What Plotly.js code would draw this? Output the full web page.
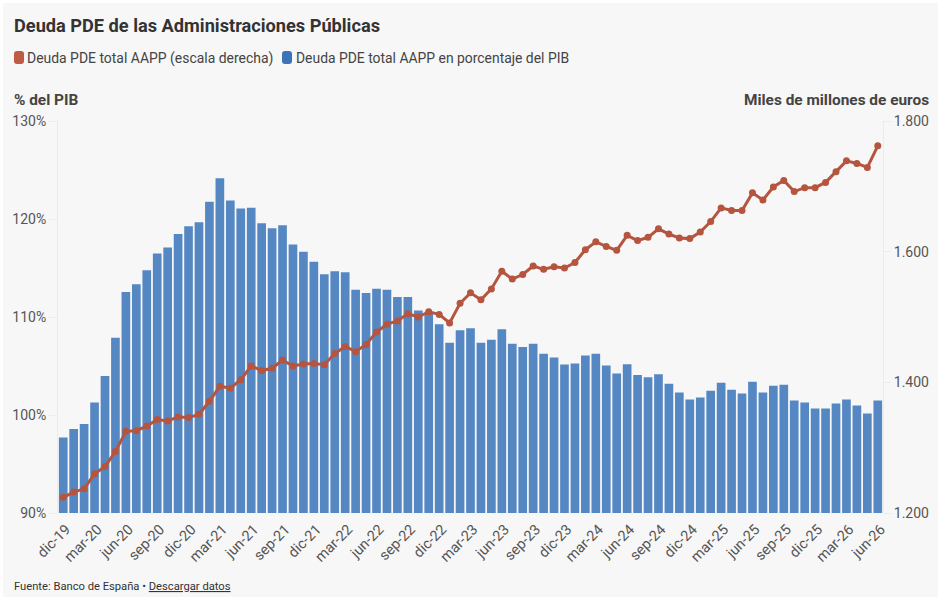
<!DOCTYPE html>
<html><head><meta charset="utf-8">
<script src="https://cdn.plot.ly/plotly-3.0.1.min.js"></script>
<style>
html,body{margin:0;padding:0;background:#fff;width:940px;height:598px;overflow:hidden}
#panel{position:absolute;left:3px;top:3px;width:935px;height:594px;background:#f7f7f7}
#chart{position:absolute;left:0;top:0;width:940px;height:598px}
</style></head><body>
<div id="panel"></div><div id="chart"></div>
<script>
const months = ["dic-19","ene-20","feb-20","mar-20","abr-20","may-20","jun-20","jul-20","ago-20","sep-20","oct-20","nov-20",
"dic-20","ene-21","feb-21","mar-21","abr-21","may-21","jun-21","jul-21","ago-21","sep-21","oct-21","nov-21",
"dic-21","ene-22","feb-22","mar-22","abr-22","may-22","jun-22","jul-22","ago-22","sep-22","oct-22","nov-22",
"dic-22","ene-23","feb-23","mar-23","abr-23","may-23","jun-23","jul-23","ago-23","sep-23","oct-23","nov-23",
"dic-23","ene-24","feb-24","mar-24","abr-24","may-24","jun-24","jul-24","ago-24","sep-24","oct-24","nov-24",
"dic-24","ene-25","feb-25","mar-25","abr-25","may-25","jun-25","jul-25","ago-25","sep-25","oct-25","nov-25",
"dic-25","ene-26","feb-26","mar-26","abr-26","may-26","jun-26"];
const pctPib = [97.7,98.56,99.07,101.28,103.97,107.87,112.56,113.34,114.77,116.47,117.08,118.47,
119.26,119.66,121.77,124.15,121.88,121.06,121.16,119.56,119.05,119.36,117.39,116.67,
115.65,114.36,114.67,114.57,112.77,112.46,112.87,112.77,112.05,112.05,110.66,110.36,
109.27,107.36,108.65,108.86,107.36,107.67,108.76,107.26,106.95,107.26,106.24,105.87,
105.16,105.26,106.07,106.24,105.05,104.24,105.19,104.07,103.86,104.17,103.18,102.3,
101.59,101.79,102.47,103.28,102.57,102.2,103.39,102.3,102.98,103.08,101.49,101.28,
100.67,100.67,101.18,101.59,100.97,100.16,101.49];
const deudaTotal = [1224,1232,1237,1260,1271,1294,1325,1326,1333,1343,1341,1347,
1346,1351,1371,1394,1391,1404,1425,1418,1421.5,1434,1425,1428,
1429,1427,1444,1455,1447,1458,1477,1489,1494,1505,1500,1508,
1504,1491,1521,1537,1526.5,1543,1570,1558,1565,1578,1573,1577,
1575,1583.5,1603,1615,1608,1602,1625,1617,1622,1635,1627,1621,
1620,1630,1646,1667,1663,1663,1690,1679,1699,1709,1692,1698,
1698,1706,1722.5,1739,1735,1729,1762];
const xTicks = ["dic-19","mar-20","jun-20","sep-20","dic-20","mar-21","jun-21","sep-21","dic-21","mar-22","jun-22","sep-22",
"dic-22","mar-23","jun-23","sep-23","dic-23","mar-24","jun-24","sep-24","dic-24","mar-25","jun-25","sep-25","dic-25","mar-26","jun-26"];
const titleText = "Deuda PDE de las Administraciones Públicas";
const seriesRed = "Deuda PDE total AAPP (escala derecha)";
const seriesBlue = "Deuda PDE total AAPP en porcentaje del PIB";

const W=940,H=598,L=58,R=57,T=120.5,B=85;
const px = x => (x-L)/(W-L-R);
const py = y => 1-(y-T)/(H-T-B);
const FONT = "Roboto, sans-serif";
const note = (x,y,text,size,color,anchor,extra) => Object.assign({xref:"paper",yref:"paper",x:px(x),y:py(y),text:text,showarrow:false,
  xanchor:anchor||"left",yanchor:"middle",borderpad:0,borderwidth:0,font:{family:FONT,size:size,color:color}},extra||{});
const swatch = (x0,x1,y0,y1,c) => {
  const r=3, a=px(x0),b=px(x1),ax=px(x0+r),bx=px(x1-r),t=py(y0),u=py(y1),tt=py(y0+r),uu=py(y1-r);
  return {type:"path",xref:"paper",yref:"paper",fillcolor:c,line:{width:0},layer:"above",
    path:`M${ax},${t} L${bx},${t} Q${b},${t} ${b},${tt} L${b},${uu} Q${b},${u} ${bx},${u} L${ax},${u} Q${a},${u} ${a},${uu} L${a},${tt} Q${a},${t} ${ax},${t} Z`};
};

const traces = [
 {type:"bar",x:months,y:pctPib,name:seriesBlue,marker:{color:"#5587c3",line:{width:0}},yaxis:"y",xaxis:"x",hoverinfo:"x+y"},
 {type:"scatter",mode:"lines+markers",x:months,y:deudaTotal,name:seriesRed,yaxis:"y2",xaxis:"x",
  line:{color:"#b5553f",width:3},marker:{color:"#b5553f",size:7}}
];
const axisLine="#ececec", tickC="#555555";
const layout = {
 width:W,height:H,margin:{l:L,r:R,t:T,b:B,pad:0},
 paper_bgcolor:"rgba(0,0,0,0)",plot_bgcolor:"rgba(0,0,0,0)",
 showlegend:false,bargap:0.17,separators:",.",
 font:{family:FONT,color:tickC,size:14},
 title:{text:"<b>"+titleText+"</b>",x:14/W,xref:"container",xanchor:"left",y:1-26/H,yref:"container",yanchor:"middle",
   font:{family:FONT,size:18.2,color:"#333333"}},
 xaxis:{type:"category",categoryorder:"array",categoryarray:months,range:[-0.5,78.5],tickmode:"array",tickvals:xTicks,ticktext:xTicks,
   tickangle:-45,ticks:"",ticklabelshift:3,ticklabelstandoff:4,showgrid:false,zeroline:false,showline:false,tickfont:{family:FONT,size:14.5,color:tickC}},
 yaxis:{range:[90,130],tick0:90,dtick:10,ticksuffix:"%",showgrid:false,zeroline:false,showline:true,linecolor:axisLine,linewidth:1,
   ticks:"outside",ticklen:8,tickcolor:axisLine,tickfont:{family:FONT,size:14,color:tickC}},
 yaxis2:{range:[1200,1800],tick0:1200,dtick:200,tickformat:",d",overlaying:"y",side:"right",showgrid:false,zeroline:false,showline:true,
   linecolor:axisLine,linewidth:1,ticks:"outside",ticklen:7,tickcolor:axisLine,tickfont:{family:FONT,size:14,color:tickC}},
 shapes:[swatch(14,24,50.5,63.5,"#c05a45"),swatch(282,292,50.5,63.5,"#3d73b9")],
 annotations:[
  note(27,57.5,seriesRed,13.95,"#444444"),
  note(296,57.5,seriesBlue,13.9,"#444444"),
  note(14,99.5,"<b>% del PIB</b>",15.4,"#444444"),
  note(929,99.5,"<b>Miles de millones de euros</b>",15.4,"#444444","right"),
  note(14,587,"Fuente: Banco de España • <span style=\"text-decoration:underline\">Descargar datos</span>",11.2,"#333333")
 ]
};
Plotly.newPlot("chart",traces,layout,{displayModeBar:false,staticPlot:true});
</script></body></html>
